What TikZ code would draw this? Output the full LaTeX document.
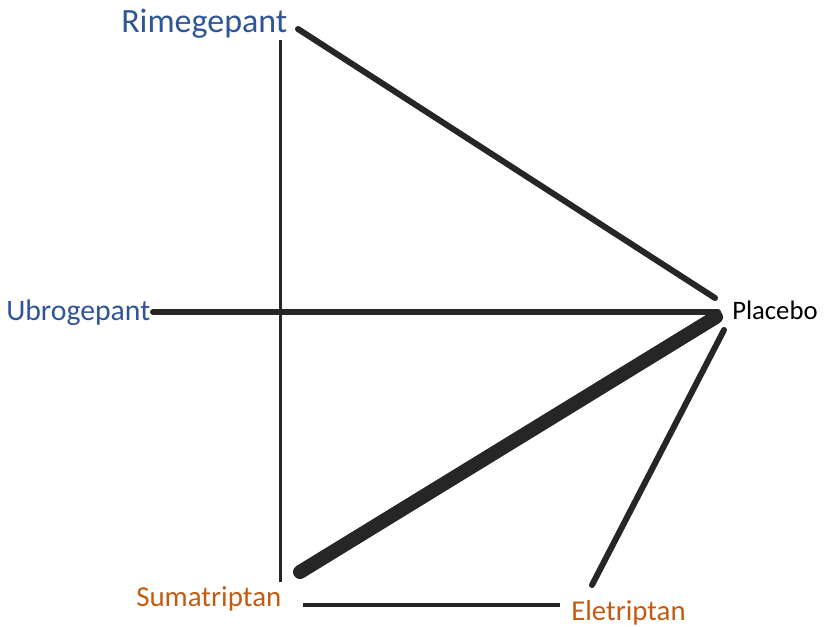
\documentclass[tikz,border=0pt]{standalone}
\usepackage{fontspec}
\setmainfont{Carlito}
\definecolor{edgec}{HTML}{262626}
\definecolor{blueL}{HTML}{2F5597}
\definecolor{orangeL}{HTML}{C55A11}
\begin{document}
\begin{tikzpicture}[x=0.75pt,y=-0.75pt,
  lbl/.style={inner sep=0pt,anchor=base west},
  bluelbl/.style={lbl,text=blueL},
  orangelbl/.style={lbl,text=orangeL},
  edge/.style={draw=edgec,line cap=round}]
\useasboundingbox (0,0) rectangle (828,626);
\node[bluelbl,font=\fontsize{25.5}{28}\selectfont] (rim) at (121,32) {Rimegepant};
\node[bluelbl,font=\fontsize{22.3}{25}\selectfont] (ubro) at (6,320.5) {Ubrogepant};
\node[lbl,font=\fontsize{20}{22}\selectfont] (plac) at (732,319) {Placebo};
\node[orangelbl,font=\fontsize{21.7}{24}\selectfont] (suma) at (136,606.5) {Sumatriptan};
\node[orangelbl,font=\fontsize{21.6}{24}\selectfont] (ele) at (571,620) {Eletriptan};
% connector end points
\coordinate (rimP) at (298,29);
\coordinate (rimV) at (280,40);
\coordinate (ubroP) at (153,312);
\coordinate (sumaP) at (300,572);
\coordinate (sumaV) at (280,582);
\coordinate (sumaE) at (303,605);
\coordinate (eleS) at (560,605);
\coordinate (eleP) at (592,585);
\coordinate (placR) at (715,298);
\coordinate (placU) at (718,312);
\coordinate (placS) at (716,317);
\coordinate (placE) at (724,330);
\draw[edge,line width=4.5pt] (rimP) -- (placR);
\draw[edge,line width=4.5pt] (ubroP) -- (placU);
\draw[edge,line width=10.5pt] (sumaP) -- (placS);
\draw[edge,line width=4.5pt] (eleP) -- (placE);
\draw[edge,line width=2.25pt,line cap=butt] (rimV) -- (sumaV);
\draw[edge,line width=2.4pt,line cap=butt] (sumaE) -- (eleS);
\end{tikzpicture}
\end{document}
